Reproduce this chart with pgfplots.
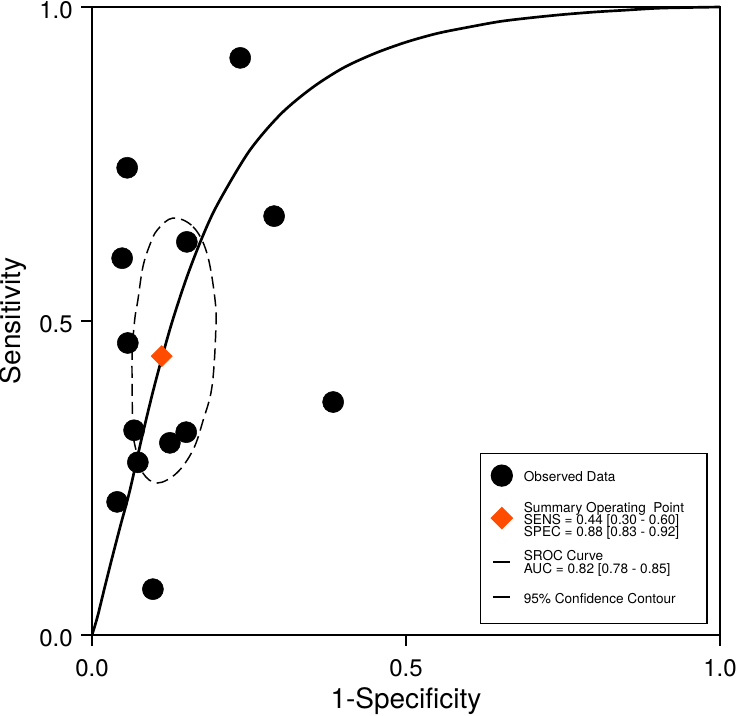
\documentclass[border=0pt]{standalone}
\usepackage{fontspec}
\setmainfont{TeX Gyre Heros}
\usepackage{pgfplots}
\pgfplotsset{compat=1.18}
\definecolor{sumorange}{RGB}{255,76,0}
\newcommand\lstrut{\rule[-3.3pt]{0pt}{11pt}}
\pgfplotsset{
  legmark/.style={legend image code/.code={\path[draw=none,fill=none] (0cm,0cm) -- (0.6cm,0cm); \draw[##1, overlay] plot coordinates {(0.3cm,1.5pt)};}},
  legline/.style={legend image code/.code={\path[draw=none,fill=none] (0cm,0cm) -- (0.6cm,0cm); \draw[##1, overlay] (0.075cm,1.5pt) -- (0.525cm,1.5pt);}},
  leglinelow/.style={legend image code/.code={\path[draw=none,fill=none] (0cm,0cm) -- (0.6cm,0cm); \draw[##1, overlay] (0.075cm,-4pt) -- (0.525cm,-4pt);}},
}

\pgfplotstableread{
x y
0.236 0.919
0.056 0.744
0.048 0.600
0.290 0.667
0.151 0.626
0.057 0.465
0.384 0.371
0.067 0.326
0.150 0.323
0.124 0.306
0.073 0.275
0.040 0.212
0.097 0.073
}\observed

\begin{document}
\begin{tikzpicture}
\useasboundingbox (-69pt,-60pt) rectangle (483.75pt,476.25pt);
\begin{axis}[
  at={(0pt,0pt)}, anchor=south west,
  scale only axis, width=471pt, height=471pt,
  xmin=0, xmax=1, ymin=0, ymax=1,
  xtick={0,0.5,1}, ytick={0,0.5,1},
  xticklabels={0.0,0.5,1.0}, yticklabels={0.0,0.5,1.0},
  tick pos=left, tick align=outside, major tick length=8pt,
  axis line style={line width=1.1pt},
  every tick/.style={line width=1.1pt, black},
  ticklabel style={font=\fontsize{18}{18}\selectfont, inner sep=0pt},
  xticklabel style={yshift=-10pt},
  yticklabel style={xshift=-6.25pt, yshift=-2.25pt},
  xlabel={1-Specificity}, ylabel={Sensitivity},
  label style={font=\fontsize{21}{21}\selectfont, inner sep=0pt},
  xlabel style={at={(axis description cs:0.5,-0.0828)}, anchor=north},
  ylabel style={at={(axis description cs:-0.1258,0.5)}, anchor=center},
  clip=false,
  legend cell align=left,
  legend style={at={(axis cs:0.618,0.290)}, anchor=north west,
    draw=black, line width=0.9pt, inner xsep=7.3pt, inner ysep=13.5pt,
    font=\fontsize{10.2}{11}\selectfont,
    nodes={inner sep=0pt}, column sep=8pt, row sep=0pt},
]
% SROC curve
\addplot[forget plot, line width=2pt, black, smooth] coordinates {
(0,0) (0.005,0.016) (0.01,0.034) (0.02,0.075) (0.03,0.115) (0.045,0.173)
(0.06,0.229) (0.08,0.317) (0.10,0.399) (0.125,0.490) (0.15,0.567)
(0.175,0.632) (0.2,0.686) (0.25,0.770) (0.3,0.829) (0.35,0.871)
(0.4,0.903) (0.45,0.926) (0.5,0.944) (0.55,0.958) (0.6,0.968)
(0.65,0.977) (0.7,0.983) (0.75,0.988) (0.8,0.992) (0.85,0.995)
(0.9,0.998) (0.95,0.9992) (1,1)
};
% 95% confidence contour
\addplot[forget plot, line width=1.1pt, black, dash pattern=on 9pt off 4.5pt, smooth cycle, tension=0.6] coordinates {
(0.129,0.664) (0.161,0.650) (0.183,0.608) (0.196,0.533) (0.197,0.481)
(0.191,0.395) (0.177,0.342) (0.161,0.295) (0.135,0.258) (0.104,0.242)
(0.081,0.258) (0.070,0.295) (0.065,0.326) (0.064,0.390) (0.064,0.449)
(0.068,0.502) (0.073,0.533) (0.081,0.586) (0.092,0.621) (0.104,0.645)
};
% observed data
\addplot[black, only marks, mark=*, mark size=7.9pt, mark options={fill=black, draw=none}, legmark]
  table[x=x, y=y] {\observed};
\addlegendentry{\makebox[130pt][l]{\lstrut Observed Data}}
\addlegendimage{empty legend}
\addlegendentry{\rule{0pt}{12pt}}
\addlegendimage{empty legend}
\addlegendentry{\lstrut Summary Operating\ \ Point}
% summary point
\addplot[sumorange, only marks, mark=square*, mark size=5.6pt, mark options={rotate=45, fill=sumorange, draw=none}, legmark]
  coordinates {(0.111,0.444)};
\addlegendentry{\lstrut SENS = 0.44 [0.30 - 0.60]}
\addlegendimage{empty legend}
\addlegendentry{\lstrut SPEC = 0.88 [0.83 - 0.92]}
\addlegendimage{empty legend}
\addlegendentry{\rule{0pt}{7.5pt}}
\addlegendimage{line width=2.2pt, black, leglinelow}
\addlegendentry{\lstrut SROC Curve}
\addlegendimage{empty legend}
\addlegendentry{\lstrut AUC = 0.82 [0.78 - 0.85]}
\addlegendimage{empty legend}
\addlegendentry{\rule{0pt}{12pt}}
\addlegendimage{line width=1.5pt, black, legline}
\addlegendentry{\lstrut 95\% Confidence Contour}
\end{axis}
\end{tikzpicture}
\end{document}
